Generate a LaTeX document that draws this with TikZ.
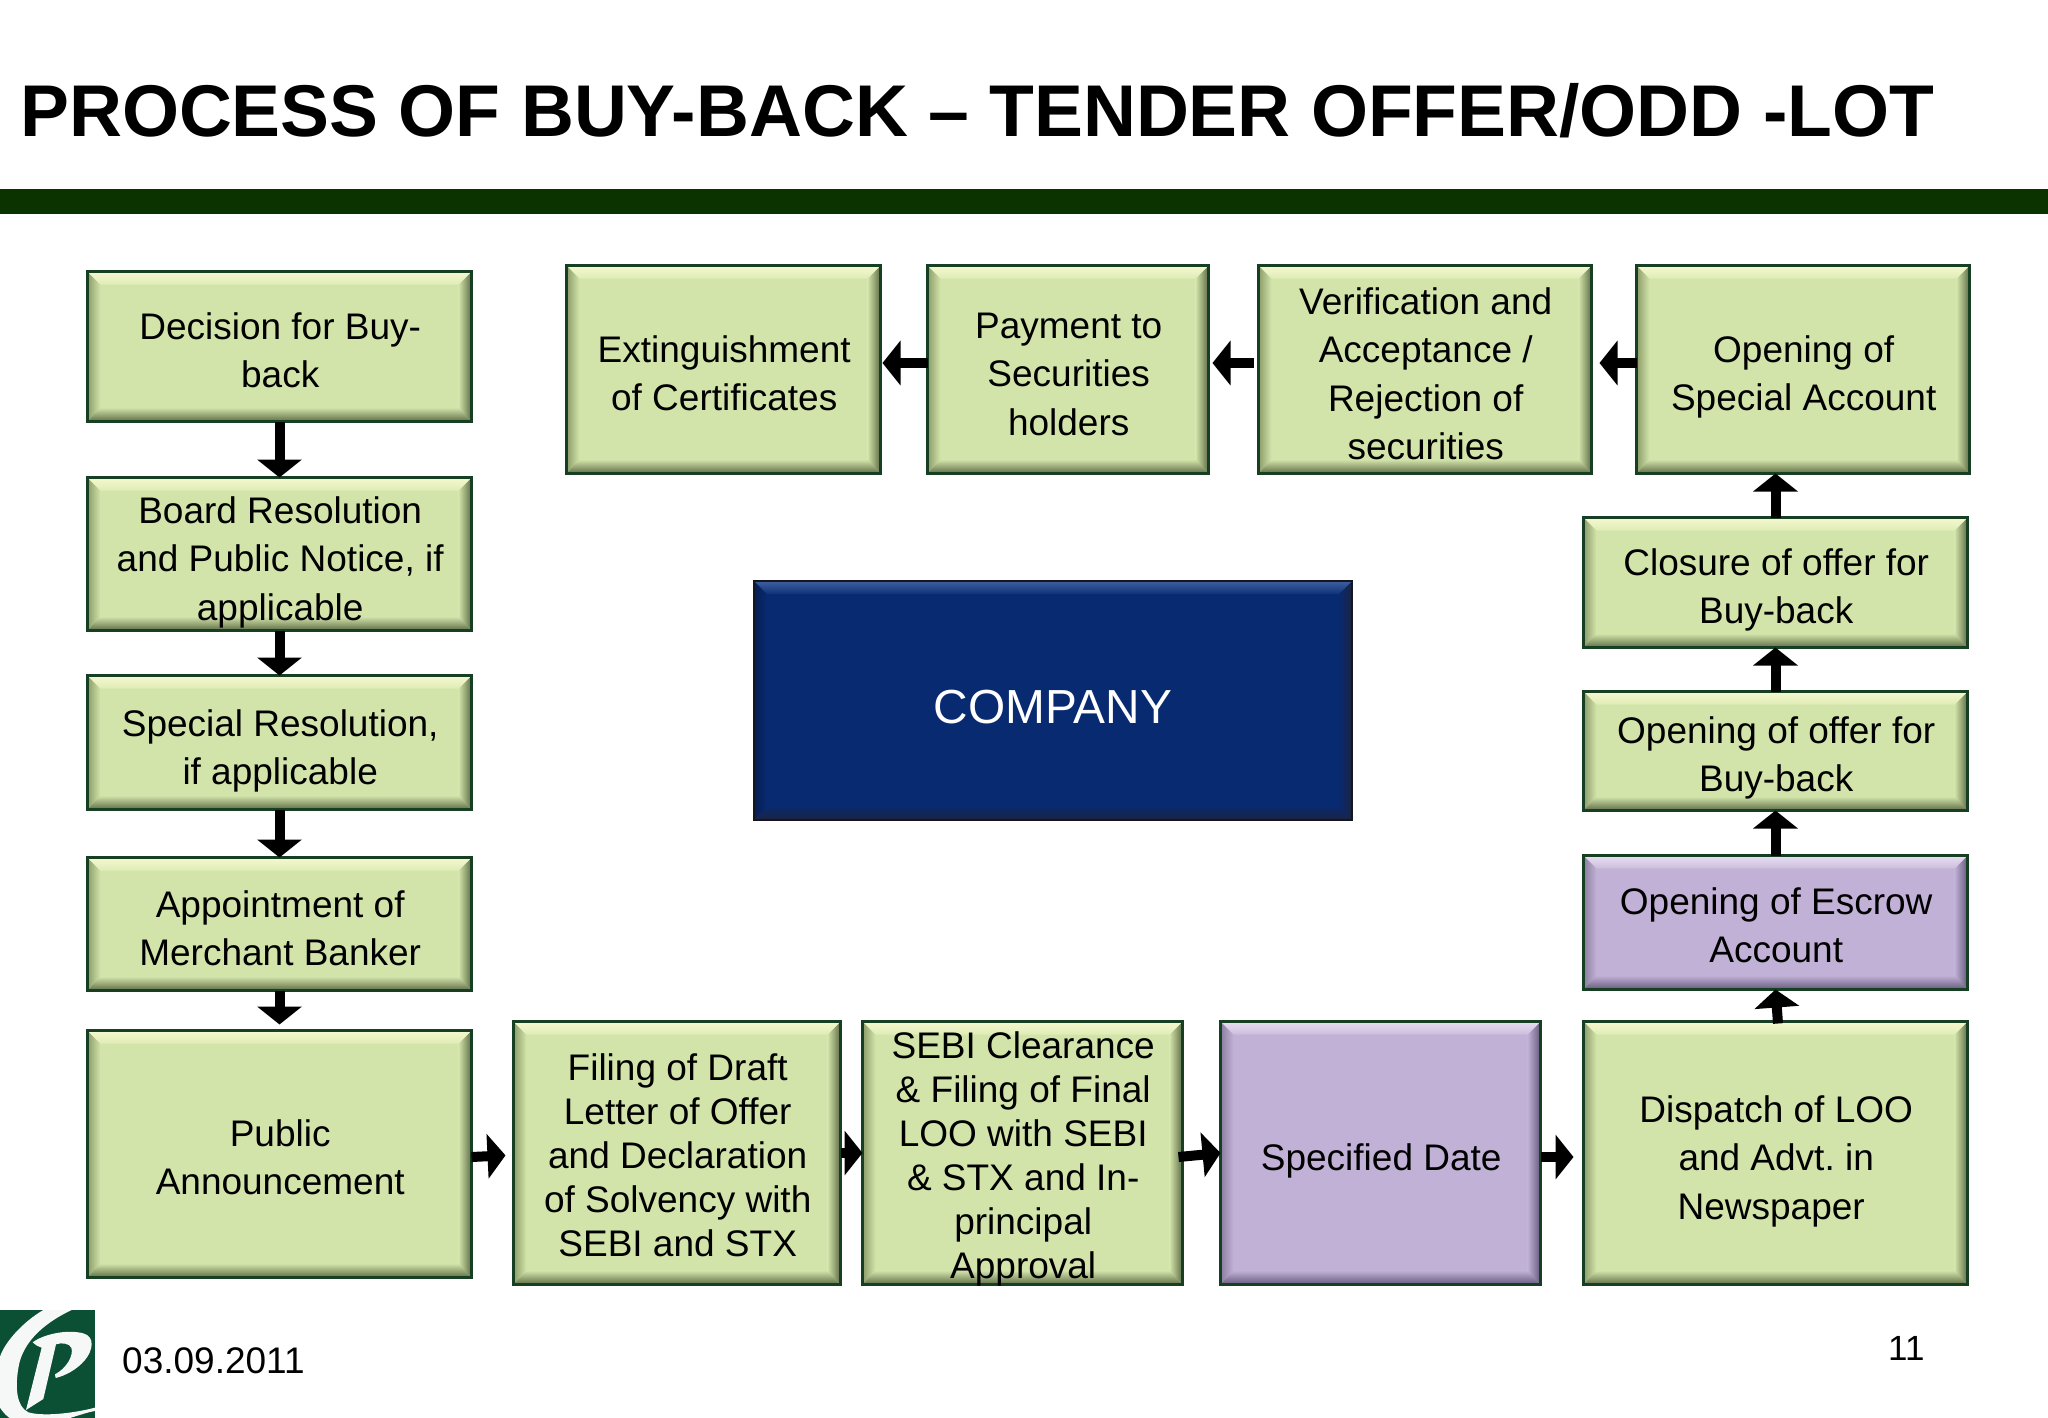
\documentclass[tikz,border=0pt]{standalone}
\usepackage{fontspec}
\setmainfont{Liberation Sans}
\frenchspacing
\usetikzlibrary{arrows.meta,calc}
\definecolor{greenbase}{HTML}{D3E4AB}
\definecolor{greenlight}{HTML}{F6F9CF}
\definecolor{greenlight2}{HTML}{DFEBB6}
\definecolor{greenside}{HTML}{8C9C68}
\definecolor{greendark}{HTML}{5E6D45}
\definecolor{greenedge}{HTML}{173F24}
\definecolor{purplebase}{HTML}{C1B1D6}
\definecolor{purplelight}{HTML}{E8DFF2}
\definecolor{purplelight2}{HTML}{CBBDDD}
\definecolor{purpleside}{HTML}{8B7DA0}
\definecolor{purpledark}{HTML}{655A7C}
\definecolor{purpleedge}{HTML}{173F24}
\definecolor{navybase}{HTML}{082A70}
\definecolor{navylight}{HTML}{3F5F9F}
\definecolor{navylight2}{HTML}{0E3278}
\definecolor{navyside}{HTML}{061E52}
\definecolor{navydark}{HTML}{1A2340}
\definecolor{navyedge}{HTML}{16161E}
\definecolor{barcolor}{HTML}{0B3300}
\definecolor{logogreen}{HTML}{0B4F34}
\tikzset{
  bevelbox/.style={draw=#1edge,line width=2.5pt,fill=#1base,inner sep=0pt,outer sep=0pt,rectangle,
    path picture={
      \coordinate (nw) at (path picture bounding box.north west);
      \coordinate (ne) at (path picture bounding box.north east);
      \coordinate (sw) at (path picture bounding box.south west);
      \coordinate (se) at (path picture bounding box.south east);
      \coordinate (inw) at ([xshift=13pt,yshift=-13pt]nw);
      \coordinate (ine) at ([xshift=-13pt,yshift=-13pt]ne);
      \coordinate (isw) at ([xshift=13pt,yshift=14pt]sw);
      \coordinate (ise) at ([xshift=-13pt,yshift=14pt]se);
      \shade[left color=#1side,right color=#1base] (nw)--(inw)--(isw)--(sw)--cycle;
      \shade[left color=#1base,right color=#1dark] (ne)--(ine)--(ise)--(se)--cycle;
      \shade[top color=#1light,bottom color=#1light2] (nw)--(ne)--(ine)--(inw)--cycle;
      \shade[top color=#1base,bottom color=#1dark] (sw)--(se)--(ise)--(isw)--cycle;
    }},
  flowarrow/.style={draw=black,line width=10pt,-{Triangle[width=44pt,length=18pt]}},
}
% #1 name, #2 x1, #3 y1, #4 x2, #5 y2, #6 colour, #7 first baseline, #8 line spacing, #9 lines
\newcommand{\bbox}[9]{%
  \pgfmathsetmacro{\bw}{#4-#2-1}\pgfmathsetmacro{\bh}{#5-#3-1}%
  \pgfmathsetmacro{\bcx}{(#2+#4)/2}\pgfmathsetmacro{\bcy}{(#3+#5)/2}%
  \pgfmathsetmacro{\brise}{\bcy-#7}%
  \node[bevelbox=#6,minimum width=\bw pt,minimum height=\bh pt] (#1) at (\bcx,\bcy)
    {\fontsize{37}{#8}\selectfont\hspace*{1.4pt}\makebox[0pt]{\smash{\raisebox{\brise pt}{\begin{tabular}[t]{@{}c@{}}#9\end{tabular}}}}};%
}
\begin{document}
\begin{tikzpicture}[x=1pt,y=-1pt]
\useasboundingbox (0,0) rectangle (2048,1418);
\fill[white] (0,0) rectangle (2048,1418);
\node[anchor=base west,inner sep=0pt,font=\fontsize{73.3}{80}\selectfont\bfseries] (title) at (20,136) {PROCESS OF BUY-BACK – TENDER OFFER/ODD -LOT};
\fill[barcolor] (0,189) rectangle (2048,214);

\bbox{decision}{87}{271}{472}{422}{green}{339}{48.5}{Decision for Buy-\\back}
\bbox{board}{87}{477}{472}{631}{green}{523}{48.5}{Board Resolution\\and Public Notice, if\\applicable}
\bbox{specialres}{87}{675}{472}{810}{green}{736}{48.5}{Special Resolution,\\if applicable}
\bbox{appoint}{87}{857}{472}{991}{green}{917}{48.5}{Appointment of\\Merchant Banker}
\bbox{public}{87}{1030}{472}{1278}{green}{1146}{48.5}{Public\\Announcement}
\bbox{filing}{513}{1021}{841}{1285}{green}{1080}{44}{Filing of Draft\\Letter of Offer\\and Declaration\\of Solvency with\\SEBI and STX}
\bbox{sebi}{862}{1021}{1183}{1285}{green}{1058}{44}{SEBI Clearance\\\& Filing of Final\\LOO with SEBI\\\& STX and In-\\principal\\Approval}
\bbox{specified}{1220}{1021}{1541}{1285}{purple}{1170}{48.5}{Specified Date}
\bbox{dispatch}{1583}{1021}{1968}{1285}{green}{1122}{48.5}{Dispatch of LOO\\and Advt. in\\\hspace*{-10pt}Newspaper}
\bbox{escrow}{1583}{855}{1968}{990}{purple}{914}{48.5}{Opening of Escrow\\Account}
\bbox{offer}{1583}{691}{1968}{811}{green}{743}{48.5}{Opening of offer for\\Buy-back}
\bbox{closure}{1583}{517}{1968}{648}{green}{575}{48.5}{Closure of offer for\\Buy-back}
\bbox{specialac}{1636}{265}{1970}{474}{green}{362}{48.5}{Opening of\\Special Account}
\bbox{verify}{1258}{265}{1592}{474}{green}{314}{48.5}{Verification and\\Acceptance /\\Rejection of\\securities}
\bbox{payment}{927}{265}{1209}{474}{green}{338}{48.5}{Payment to\\Securities\\holders}
\bbox{extinguish}{566}{265}{881}{474}{green}{362}{48.5}{Extinguishment\\of Certificates}
\node[bevelbox=navy,minimum width=598pt,minimum height=239pt,text=white,font=\fontsize{47.8}{50}\selectfont] (company) at (1053,700.5) {\makebox[0pt]{\smash{\raisebox{-22.5pt}{COMPANY}}}};

\draw[flowarrow] (decision.south) -- (board.north);
\draw[flowarrow] (board.south) -- (specialres.north);
\draw[flowarrow] (specialres.south) -- (appoint.north);
\draw[flowarrow,shorten >=6pt] (appoint.south) -- (public.north);
\draw[flowarrow,shorten >=8pt] ([yshift=-3pt]public.east) -- ([yshift=-2pt]filing.west);
\draw[flowarrow] (filing.east) -- (sebi.west);
\draw[flowarrow] ([xshift=-4pt,yshift=-4pt]sebi.east) -- (specified.west);
\draw[flowarrow,shorten >=10pt] ([yshift=-4pt]specified.east) -- ([yshift=-4pt]dispatch.west);
\draw[flowarrow] ([xshift=2.5pt,yshift=-2pt]dispatch.north) -- (escrow.south);
\draw[flowarrow] (escrow.north) -- (offer.south);
\draw[flowarrow] (offer.north) -- (closure.south);
\draw[flowarrow] (closure.north) -- (closure.north |- specialac.south);
\draw[flowarrow,shorten >=8pt] ([yshift=6.5pt]specialac.west) -- ([yshift=6.5pt]verify.east);
\draw[flowarrow,shorten <=5pt,shorten >=4pt] ([yshift=6.5pt]verify.west) -- ([yshift=6.5pt]payment.east);
\draw[flowarrow,shorten >=2pt] ([yshift=6.5pt]payment.west) -- ([yshift=6.5pt]extinguish.east);

% logo
\begin{scope}[shift={(0,1305)},x=0.3333pt,y=-0.3333pt]
  \clip (0,15) rectangle (285,339);
  \fill[logogreen] (0,15) rectangle (285,339);
  \fill[white!96!logogreen] (130,15) .. controls (70,50) and (15,110) .. (0,155)
     -- (-5,300) .. controls (10,325) and (25,339) .. (40,345) -- (190,345)
     .. controls (225,335) and (260,322) .. (285,318) -- (285,308)
     .. controls (220,325) and (130,335) .. (85,322)
     .. controls (50,305) and (45,250) .. (55,190)
     .. controls (65,120) and (120,60) .. (215,15) -- cycle;
  \fill[white!96!logogreen] (98,112) .. controls (130,88) and (200,72) .. (250,85)
     .. controls (285,95) and (280,135) .. (255,165)
     .. controls (230,195) and (195,212) .. (167,219)
     -- (165,208) .. controls (200,190) and (222,150) .. (214,128)
     .. controls (208,115) and (185,112) .. (168,118)
     -- (130,282) -- (78,315) -- (125,128) .. controls (115,125) and (105,120) .. (98,112) -- cycle;
\end{scope}

\node[anchor=base west,inner sep=0pt,font=\fontsize{37}{40}\selectfont] (date) at (122,1373) {03.09.2011};
\node[anchor=base west,inner sep=0pt,font=\fontsize{35}{40}\selectfont] (pagenum) at (1888,1360) {11};
\end{tikzpicture}
\end{document}
